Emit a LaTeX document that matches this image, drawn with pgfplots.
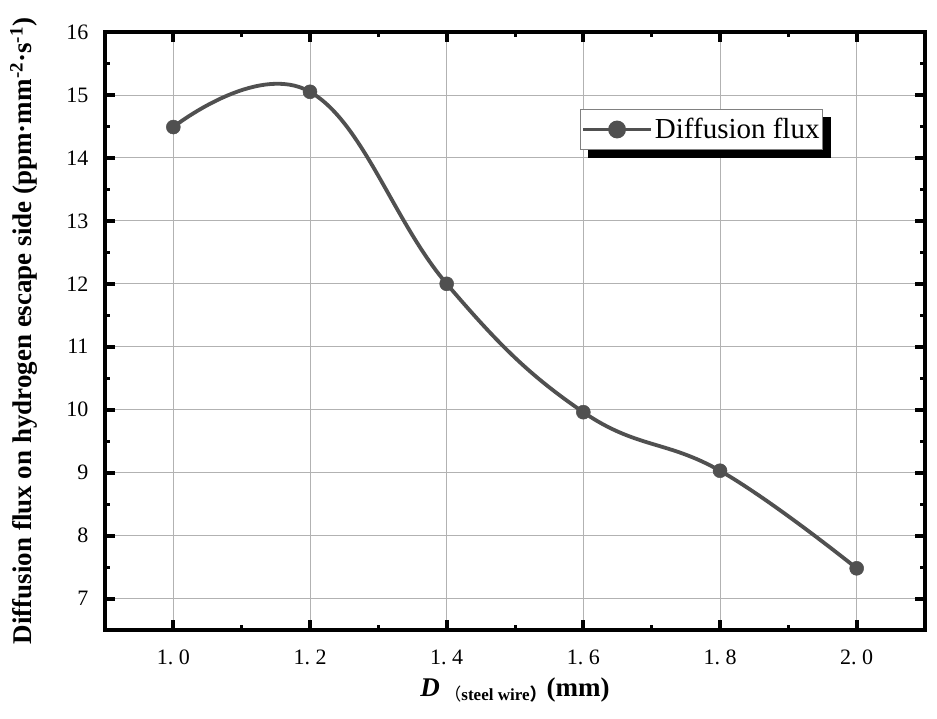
\documentclass[border=0pt]{standalone}
\usepackage{pgfplots}
\pgfplotsset{compat=1.18}
\usepackage{fontspec}
\setmainfont{Liberation Serif}
\newfontfamily\cjk{Noto Sans CJK SC}
\definecolor{lc}{HTML}{505050}
\begin{document}
\begin{tikzpicture}
\path[use as bounding box] (-105pt,-88pt) rectangle (832pt,630pt);
\begin{axis}[
  at={(0pt,0pt)}, anchor=south west,
  scale only axis,
  width=820pt, height=598pt,
  xmin=0.9, xmax=2.1, ymin=6.5, ymax=16,
  xtick={1.0,1.2,1.4,1.6,1.8,2.0},
  xticklabels={1.\hspace{0.25em}0,1.\hspace{0.25em}2,1.\hspace{0.25em}4,1.\hspace{0.25em}6,1.\hspace{0.25em}8,2.\hspace{0.25em}0},
  ytick={7,8,...,16},
  minor x tick num=1, minor y tick num=1,
  tick align=inside,
  major tick length=10pt, minor tick length=5pt,
  every tick/.style={black, line width=4pt},
  minor tick style={line width=3pt},
  axis line style={line width=4.5pt},
  grid=major,
  major grid style={black!30, line width=0.8pt},
  /pgf/number format/assume math mode=true,
  ticklabel style={font=\fontsize{22}{24}\selectfont},
  xticklabel style={yshift=-16pt},
  yticklabel style={xshift=-13pt},
  xlabel={\textbf{\textit{D}}\,\raisebox{-0.35ex}{\fontsize{17}{17}\selectfont\cjk（\normalfont\bfseries steel wire\cjk）}\textbf{(mm)}},
  ylabel={\textbf{Diffusion flux on hydrogen escape side (ppm·mm\textsuperscript{-2}·s\textsuperscript{-1})}},
  label style={font=\fontsize{27}{29}\selectfont},
  xlabel style={at={(axis description cs:0.5,-0.1003)}, anchor=center},
  ylabel style={at={(axis description cs:-0.0988,0.5)}, anchor=center},
  legend style={name=leg, at={(0.579,0.871)}, anchor=north west, draw=gray, line width=0.8pt,
    font=\fontsize{29}{31}\selectfont, inner xsep=1pt, inner ysep=7pt},
  legend cell align=left,
  legend image code/.code={%
    \draw[draw=lc, line width=3.8pt, solid] (0pt,0pt) -- (68pt,0pt);%
    \fill[lc] (34pt,0pt) circle[radius=7pt];},
]
\addplot[color=lc, line width=3.8pt, smooth, tension=0.7, mark=*, mark size=7pt, mark options={fill=lc, draw=lc, line width=0.5pt}]
coordinates {(1.0,14.49) (1.2,15.05) (1.4,12.0) (1.6,9.96) (1.8,9.03) (2.0,7.48)};
\addlegendentry{Diffusion flux}
\end{axis}
\fill[black] ([yshift=-8pt]leg.north east) rectangle ([xshift=8pt,yshift=-8pt]leg.south east);
\fill[black] ([xshift=8pt]leg.south west) rectangle ([xshift=8pt,yshift=-8pt]leg.south east);
\end{tikzpicture}
\end{document}
